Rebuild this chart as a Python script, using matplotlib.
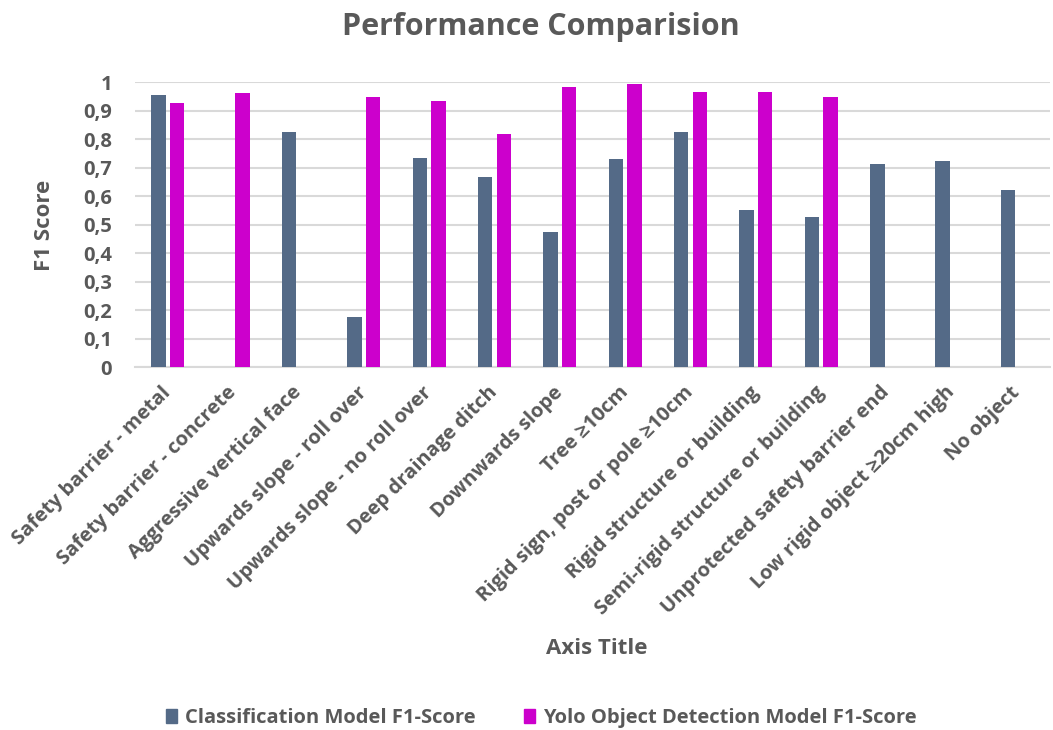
import matplotlib
matplotlib.use("Agg")
import matplotlib.pyplot as plt
import numpy as np
from matplotlib.patches import Patch

categories = [
    "Safety barrier - metal",
    "Safety barrier - concrete",
    "Aggressive vertical face",
    "Upwards slope - roll over",
    "Upwards slope - no roll over",
    "Deep drainage ditch",
    "Downwards slope",
    "Tree \u226510cm",
    "Rigid sign, post or pole \u226510cm",
    "Rigid structure or building",
    "Semi-rigid structure or building",
    "Unprotected safety barrier end",
    "Low rigid object \u226520cm high",
    "No object",
]
classification_f1 = [0.954, None, 0.826, 0.178, 0.736, 0.667, 0.476, 0.731,
                     0.827, 0.553, 0.526, 0.712, 0.725, 0.621]
yolo_f1 = [0.927, 0.961, None, 0.949, 0.936, 0.820, 0.982, 0.993,
           0.965, 0.965, 0.949, None, None, None]
yticks = [0, 0.1, 0.2, 0.3, 0.4, 0.5, 0.6, 0.7, 0.8, 0.9, 1.0]
ytick_labels = ["0", "0,1", "0,2", "0,3", "0,4", "0,5", "0,6", "0,7", "0,8", "0,9", "1"]

C_CLASS = "#546A87"
C_YOLO = "#CC00CC"
TXT = "#595959"
FONT = ["Open Sans", "DejaVu Sans"]

plt.rcParams['font.family'] = FONT
plt.rcParams['font.weight'] = 'bold'

fig = plt.figure(figsize=(10.53, 7.30), dpi=100)
ax = fig.add_axes([135/1053, 1 - 367.3/730, (1050-135)/1053, (367.3-82.3)/730])

x = np.arange(len(categories))
w = 0.22
off = 0.142
cx = [xi - off for xi, v in zip(x, classification_f1) if v is not None]
cv = [v for v in classification_f1 if v is not None]
yx = [xi + off for xi, v in zip(x, yolo_f1) if v is not None]
yv = [v for v in yolo_f1 if v is not None]
ax.bar(cx, cv, width=w, color=C_CLASS, zorder=3)
ax.bar(yx, yv, width=w, color=C_YOLO, zorder=3)

ax.set_xlim(-0.5, len(categories) - 0.5)
ax.set_ylim(0, 1.0)
ax.set_yticks(yticks)
ax.set_yticklabels(ytick_labels, fontsize=14.5, color=TXT, fontweight='bold')
ax.yaxis.grid(True, color="#D9D9D9", linewidth=1.5, zorder=0)
ax.set_axisbelow(True)
for s in ["top", "right", "left"]:
    ax.spines[s].set_visible(False)
ax.spines["bottom"].set_color("#D9D9D9")
ax.spines["bottom"].set_linewidth(1.5)
ax.tick_params(axis='both', length=0)
ax.tick_params(axis='y', pad=16.5)
ax.set_xticks(x)
ax.set_xticklabels(categories, rotation=45, ha='right', va='center',
                   rotation_mode='anchor', fontsize=14.5, color=TXT, fontweight='bold')
ax.tick_params(axis='x', pad=16)

fig.text(45/1053, 1 - 225/730, "F1 Score", rotation=90, ha='center', va='center',
         fontsize=16, color=TXT, fontweight='bold')
fig.text(597/1053, 1 - 648/730, "Axis Title", ha='center', va='center',
         fontsize=16, color=TXT, fontweight='bold')
fig.text(541/1053, 1 - 27/730, "Performance Comparision", ha='center', va='center',
         fontsize=22, color=TXT, fontweight='bold')

handles = [Patch(color=C_CLASS, label="Classification Model F1-Score"),
           Patch(color=C_YOLO, label="Yolo Object Detection Model F1-Score")]
leg = fig.legend(handles=handles, loc='center', bbox_to_anchor=(541/1053, 1 - 718/730),
                 ncol=2, frameon=False, fontsize=14.5, handlelength=0.55, handleheight=0.75,
                 handletextpad=0.4, columnspacing=2.4)
for t in leg.get_texts():
    t.set_color(TXT)
    t.set_fontweight('bold')

fig.savefig("out.png", dpi=100)
